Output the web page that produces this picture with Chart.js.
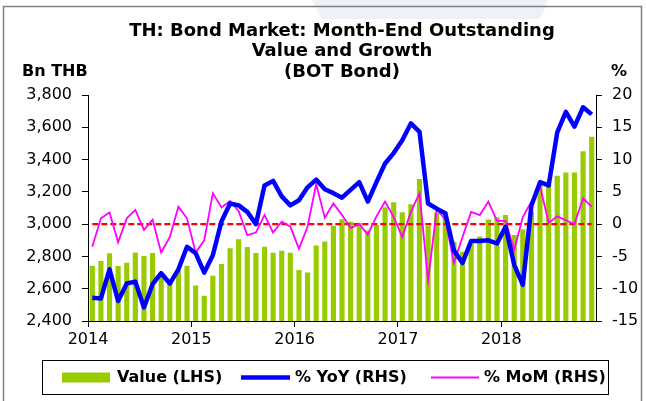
<!DOCTYPE html>
<html><head><meta charset="utf-8">
<script src="https://cdn.jsdelivr.net/npm/chart.js@4/dist/chart.umd.min.js"></script>
<style>html,body{margin:0;padding:0;background:#fff}canvas{display:block}</style>
</head><body>
<canvas id="c" width="646" height="401"></canvas>
<script>
const months = ['Jan-14','Feb-14','Mar-14','Apr-14','May-14','Jun-14','Jul-14','Aug-14','Sep-14','Oct-14','Nov-14','Dec-14',
'Jan-15','Feb-15','Mar-15','Apr-15','May-15','Jun-15','Jul-15','Aug-15','Sep-15','Oct-15','Nov-15','Dec-15',
'Jan-16','Feb-16','Mar-16','Apr-16','May-16','Jun-16','Jul-16','Aug-16','Sep-16','Oct-16','Nov-16','Dec-16',
'Jan-17','Feb-17','Mar-17','Apr-17','May-17','Jun-17','Jul-17','Aug-17','Sep-17','Oct-17','Nov-17','Dec-17',
'Jan-18','Feb-18','Mar-18','Apr-18','May-18','Jun-18','Jul-18','Aug-18','Sep-18','Oct-18','Nov-18'];
const yearLabels = ['2014','2015','2016','2017','2018'];
const valueLHS = [2742,2771,2819,2740,2761,2825,2802,2822,2698,2646,2712,2742,
2620,2557,2680,2753,2850,2907,2858,2821,2860,2823,2835,2823,
2716,2701,2868,2893,2990,3030,3015,3008,2960,2995,3105,3135,
3073,3124,3279,2990,3070,3075,2891,2829,2880,2924,3028,3042,
3056,2932,2969,3075,3245,3255,3300,3320,3320,3452,3541];
const yoyRHS = [-11.4,-11.5,-7.0,-11.9,-9.2,-8.9,-12.9,-9.3,-7.6,-9.2,-7.0,-3.5,
-4.5,-7.5,-4.8,0.4,3.2,2.9,1.9,0.0,6.0,6.7,4.3,2.9,
3.7,5.7,6.9,5.4,4.8,4.1,5.3,6.5,3.5,6.5,9.4,11.0,
13.0,15.6,14.3,3.2,2.4,1.7,-4.1,-6.0,-2.6,-2.6,-2.5,-3.0,
-0.4,-6.3,-9.4,2.9,6.5,6.0,14.2,17.4,15.1,18.1,17.0];
const momRHS = [-3.5,0.9,1.8,-2.8,0.9,2.2,-0.9,0.7,-4.4,-2.0,2.7,0.9,
-4.4,-2.5,4.8,2.6,3.6,2.0,-1.7,-1.3,1.4,-1.3,0.4,-0.4,
-3.8,-0.4,6.2,1.0,3.2,1.4,-0.6,0.0,-1.6,1.2,3.5,1.1,
-2.0,1.9,4.8,-8.7,2.3,0.7,-6.0,-2.0,1.9,1.4,3.5,0.5,
0.5,-4.0,1.1,3.5,5.9,0.2,1.2,0.6,0.0,4.0,2.7];
const titleLines = ['TH: Bond Market: Month-End Outstanding','Value and Growth','(BOT Bond)'];

const FONT = 'DejaVu Sans';

const decor = {
  id: 'decor',
  beforeDraw(chart) {
    const ctx = chart.ctx;
    ctx.save();
    ctx.fillStyle = '#fff';
    ctx.fillRect(0, 0, chart.width, chart.height);
    ctx.fillStyle = '#eef1f7';
    ctx.beginPath();
    ctx.moveTo(312, 0); ctx.lineTo(548, 0); ctx.lineTo(540, 19); ctx.lineTo(322, 19); ctx.closePath();
    ctx.fill();
    ctx.strokeStyle = '#808080';
    ctx.lineWidth = 1.5;
    ctx.beginPath();
    ctx.moveTo(3.5, 410); ctx.lineTo(3.5, 6.5); ctx.lineTo(641.5, 6.5); ctx.lineTo(641.5, 410);
    ctx.stroke();
    ctx.restore();
  },
  afterDatasetDraw(chart, args) {
    if (args.index !== 0) return;
    const ctx = chart.ctx, xs = chart.scales.x, ys = chart.scales.y1;
    const yy = ys.getPixelForValue(0);
    ctx.save();
    ctx.strokeStyle = '#ff0000';
    ctx.lineWidth = 2.2;
    ctx.setLineDash([6, 3]);
    ctx.beginPath();
    ctx.moveTo(xs.getPixelForValue(0), yy);
    ctx.lineTo(xs.getPixelForValue(months.length - 1), yy);
    ctx.stroke();
    ctx.restore();
  },
  afterDraw(chart) {
    const ctx = chart.ctx, ca = chart.chartArea;
    ctx.save();
    ctx.fillStyle = '#000';
    ctx.textBaseline = 'middle';
    ctx.textAlign = 'center';
    ctx.font = 'bold 18px "' + FONT + '"';
    const cx = (ca.left + ca.right) / 2;
    const ty = [31, 51, 72];
    titleLines.forEach((t, i) => ctx.fillText(t, cx, ty[i]));
    ctx.font = 'bold 16px "' + FONT + '"';
    ctx.textAlign = 'left';
    ctx.fillText('Bn THB', 22, 72);
    ctx.fillText('%', 611, 72);
    // legend
    ctx.strokeStyle = '#000';
    ctx.lineWidth = 1;
    ctx.strokeRect(42.5, 360.5, 566, 34);
    const ly = 377.5;
    const ds = chart.data.datasets;
    ctx.fillStyle = ds[0].backgroundColor;
    ctx.fillRect(62, ly - 5, 48, 10);
    ctx.strokeStyle = ds[2].borderColor; ctx.lineWidth = ds[2].borderWidth;
    ctx.beginPath(); ctx.moveTo(241, ly); ctx.lineTo(290, ly); ctx.stroke();
    ctx.strokeStyle = ds[1].borderColor; ctx.lineWidth = ds[1].borderWidth;
    ctx.beginPath(); ctx.moveTo(431, ly); ctx.lineTo(479, ly); ctx.stroke();
    ctx.fillStyle = '#000';
    ctx.fillText(ds[0].label, 117, ly);
    ctx.fillText(ds[2].label, 295, ly);
    ctx.fillText(ds[1].label, 484, ly);
    ctx.restore();
  }
};

new Chart(document.getElementById('c'), {
  type: 'bar',
  data: {
    labels: months,
    datasets: [
      { type: 'bar', label: 'Value (LHS)', data: valueLHS, yAxisID: 'y', backgroundColor: '#99cc00',
        borderWidth: 0, barPercentage: 0.6, categoryPercentage: 1.0, order: 3 },
      { type: 'line', label: '% MoM (RHS)', data: momRHS, yAxisID: 'y1', borderColor: '#ff00ff',
        borderWidth: 1.8, pointRadius: 0, tension: 0, fill: false, order: 2 },
      { type: 'line', label: '% YoY (RHS)', data: yoyRHS, yAxisID: 'y1', borderColor: '#0000ff',
        borderWidth: 4.5, pointRadius: 0, tension: 0, fill: false, order: 1, borderJoinStyle: 'round' }
    ]
  },
  options: {
    responsive: false,
    animation: false,
    devicePixelRatio: 1,
    layout: { padding: { top: 95, left: 0, right: 0, bottom: 0 } },
    plugins: { legend: { display: false }, title: { display: false }, tooltip: { enabled: false } },
    scales: {
      x: {
        type: 'category',
        offset: true,
        grid: { display: true, drawOnChartArea: false, offset: true, tickLength: 6,
          tickColor: (c) => (c.index !== undefined && c.index % 12 === 0) ? '#000' : 'rgba(0,0,0,0)' },
        border: { color: '#000', width: 1 },
        ticks: { autoSkip: false, maxRotation: 0, minRotation: 0, labelOffset: -4.3, padding: 3,
          color: '#000', font: { family: FONT, size: 16 },
          callback: (v, i) => (i % 12 === 0 ? yearLabels[i / 12] : '') },
        afterFit: (s) => { s.height = 80; }
      },
      y: {
        position: 'left', min: 2400, max: 3800,
        grid: { drawOnChartArea: false, tickLength: 6, tickColor: '#000' },
        border: { color: '#000', width: 1 },
        ticks: { stepSize: 200, padding: 10, color: '#000', font: { family: FONT, size: 16 },
          callback: (v) => v.toLocaleString('en-US') },
        afterFit: (s) => { s.width = 88; }
      },
      y1: {
        position: 'right', min: -15, max: 20,
        grid: { drawOnChartArea: false, tickLength: 6, tickColor: '#000' },
        border: { color: '#000', width: 1 },
        ticks: { stepSize: 5, padding: 10, color: '#000', font: { family: FONT, size: 16 } },
        afterFit: (s) => { s.width = 50; }
      }
    }
  },
  plugins: [decor]
});
</script>
</body></html>
